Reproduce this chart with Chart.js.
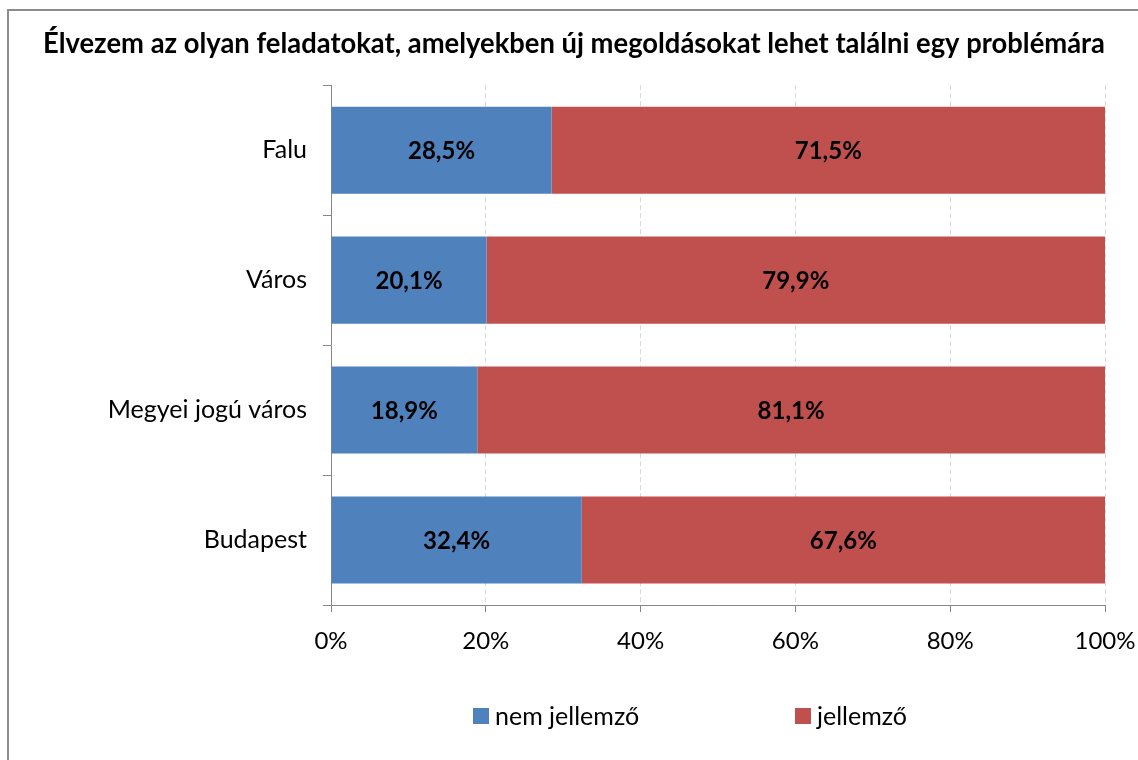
<!DOCTYPE html>
<html>
<head>
<meta charset="utf-8">
<script src="https://cdn.jsdelivr.net/npm/chart.js@4.4.0/dist/chart.umd.min.js"></script>
<style>
  html, body { margin: 0; padding: 0; background: #fff; overflow: hidden; }
  #wrap { position: relative; width: 1138px; height: 760px; }
  #frame { position: absolute; left: 7px; top: 9px; width: 1300px; height: 900px;
           border-left: 2px solid #8c8c8c; border-top: 2px solid #8c8c8c; }
  canvas { position: absolute; left: 0; top: 0; }
</style>
</head>
<body>
<div id="wrap">
  <div id="frame"></div>
  <canvas id="c" width="1138" height="760"></canvas>
</div>
<script>
// Data
const categories = ['Falu', 'Város', 'Megyei jogú város', 'Budapest'];
const nemJellemzo = [28.5, 20.1, 18.9, 32.4];
const jellemzo = [71.5, 79.9, 81.1, 67.6];
const seriesNames = ['nem jellemző', 'jellemző'];
const seriesColors = ['#4f81bd', '#c0504d'];
const xTickValues = [0, 20, 40, 60, 80, 100];
const chartTitle = 'Élvezem az olyan feladatokat, amelyekben új megoldásokat lehet találni egy problémára';

const FONT = 'Lato';
const AXIS_COLOR = '#868686';

const fmtPct = v => v.toFixed(1).replace('.', ',') + '%';

// Value labels centred inside each bar segment
const segmentLabels = {
  id: 'segmentLabels',
  afterDatasetsDraw(chart) {
    const ctx = chart.ctx;
    ctx.save();
    ctx.font = 'bold 24px ' + FONT;
    ctx.fillStyle = '#000';
    ctx.textAlign = 'center';
    ctx.textBaseline = 'middle';
    chart.data.datasets.forEach((ds, di) => {
      const meta = chart.getDatasetMeta(di);
      meta.data.forEach((bar, i) => {
        const cx = (bar.x + bar.base) / 2;
        ctx.fillText(fmtPct(ds.data[i]), cx, bar.y + 1);
      });
    });
    ctx.restore();
  }
};

// Wide-spaced legend below the axis
const spacedLegend = {
  id: 'spacedLegend',
  afterDraw(chart) {
    const ctx = chart.ctx;
    const startX = 473, step = 322, y = 716, box = 16;
    ctx.save();
    ctx.font = '25px ' + FONT;
    ctx.textBaseline = 'middle';
    ctx.textAlign = 'left';
    chart.data.datasets.forEach((ds, i) => {
      const x = startX + i * step;
      ctx.fillStyle = ds.backgroundColor;
      ctx.fillRect(x, y - box / 2, box, box);
      ctx.fillStyle = '#000';
      ctx.fillText(ds.label, x + box + 6, y + 1);
    });
    ctx.restore();
  }
};

new Chart(document.getElementById('c'), {
  type: 'bar',
  data: {
    labels: categories,
    datasets: [
      { label: seriesNames[0], data: nemJellemzo, backgroundColor: seriesColors[0],
        barPercentage: 0.67, categoryPercentage: 1 },
      { label: seriesNames[1], data: jellemzo, backgroundColor: seriesColors[1],
        barPercentage: 0.67, categoryPercentage: 1 }
    ]
  },
  options: {
    responsive: false,
    animation: false,
    devicePixelRatio: 1,
    indexAxis: 'y',
    layout: { padding: { left: 43, right: 33, top: 0, bottom: 0 } },
    plugins: {
      legend: { display: false },
      tooltip: { enabled: false },
      title: {
        display: true,
        text: chartTitle,
        color: '#000',
        font: { family: FONT, size: 27.7, weight: 'bold', lineHeight: 1.2 },
        padding: { top: 27, bottom: 25 }
      }
    },
    scales: {
      x: {
        stacked: true,
        min: 0,
        max: 100,
        afterBuildTicks: s => { s.ticks = xTickValues.map(v => ({ value: v })); },
        afterFit: s => { s.height = 155; s.paddingLeft = 0; s.paddingRight = 0; },
        ticks: {
          callback: v => v + '%',
          color: '#000',
          font: { family: FONT, size: 24, lineHeight: 1.2 },
          padding: 15,
          maxRotation: 0
        },
        grid: { color: '#d9d9d9', lineWidth: 1, tickColor: AXIS_COLOR, tickLength: 7 },
        border: { color: AXIS_COLOR, width: 1, dash: [5, 3] }
      },
      y: {
        stacked: true,
        offset: true,
        afterFit: s => { s.width = 331 - 43; },
        ticks: {
          color: '#000',
          font: { family: FONT, size: 25, lineHeight: 1.2 },
          padding: 16
        },
        grid: { offset: true, drawOnChartArea: false, tickColor: AXIS_COLOR, tickLength: 8 },
        border: { color: AXIS_COLOR, width: 1 }
      }
    }
  },
  plugins: [segmentLabels, spacedLegend]
});
</script>
</body>
</html>
